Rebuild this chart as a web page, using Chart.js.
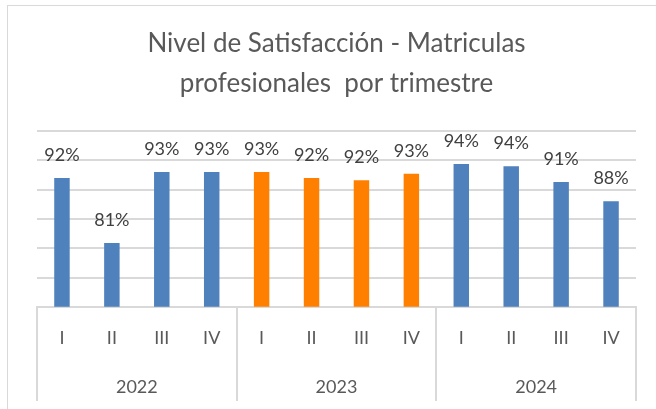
<!DOCTYPE html>
<html>
<head>
<meta charset="utf-8">
<script src="https://cdn.jsdelivr.net/npm/chart.js@4"></script>
<style>
    body { margin: 0; background: #fff; }
    #wrap { position: relative; width: 656px; height: 409px; overflow: hidden; }
    #frame { position: absolute; left: 7px; top: 5px; width: 700px; height: 420px;
             border-left: 1px solid #d9d9d9; border-top: 1px solid #d9d9d9; }
    canvas { position: absolute; left: 0; top: 0; }
</style>
</head>
<body>
<div id="wrap">
    <div id="frame"></div>
    <canvas id="chart" width="656" height="409"></canvas>
</div>
<script>
const years = ['2022', '2023', '2024'];
const quarters = ['I', 'II', 'III', 'IV'];
const satisfaction = [92.0, 80.9, 93.0, 93.0, 93.0, 92.0, 91.6, 92.7, 94.4, 94.0, 91.3, 88.0];

const blue = '#4f81bd';
const orange = '#ff8000';
const gridColor = '#d9d9d9';
const textColor = '#595959';

const labels = years.flatMap(() => quarters);
const barColors = labels.map((q, i) => Math.floor(i / quarters.length) === 1 ? orange : blue);

// value labels above each bar
const valueLabels = {
    id: 'valueLabels',
    afterDatasetsDraw(chart) {
        const ctx = chart.ctx;
        const meta = chart.getDatasetMeta(0);
        ctx.save();
        ctx.font = '18px Lato';
        ctx.fillStyle = '#404040';
        ctx.textAlign = 'center';
        ctx.textBaseline = 'middle';
        meta.data.forEach((bar, i) => {
            ctx.fillText(Math.round(satisfaction[i]) + '%', bar.x, bar.y - 23);
        });
        ctx.restore();
    }
};

// vertical separators of the two-level category axis
const yearDividers = {
    id: 'yearDividers',
    afterDraw(chart) {
        const x = chart.scales.x;
        const x2 = chart.scales.x2;
        const ctx = chart.ctx;
        const step = x.getPixelForValue(1) - x.getPixelForValue(0);
        ctx.save();
        ctx.strokeStyle = gridColor;
        ctx.lineWidth = 2;
        for (let k = 0; k <= years.length; k++) {
            const idx = k * quarters.length;
            const px = Math.round(x.getPixelForValue(Math.min(idx, labels.length - 1)) + (idx === labels.length ? step / 2 : -step / 2));
            ctx.beginPath();
            ctx.moveTo(px, x.top);
            ctx.lineTo(px, x2.bottom - 3);
            ctx.stroke();
        }
        ctx.restore();
    }
};

new Chart(document.getElementById('chart'), {
    type: 'bar',
    data: {
        labels: labels,
        datasets: [{
            data: satisfaction,
            backgroundColor: barColors,
            categoryPercentage: 1,
            barPercentage: 0.31
        }]
    },
    options: {
        responsive: false,
        animation: false,
        layout: { padding: { left: 37, right: 20, top: 0, bottom: 5 } },
        plugins: {
            legend: { display: false },
            tooltip: { enabled: false },
            title: {
                display: true,
                text: ['Nivel de Satisfacción - Matriculas', 'profesionales  por trimestre'],
                color: textColor,
                font: { family: 'Lato', size: 26, weight: 'normal', lineHeight: 1.54 },
                padding: { top: 24, bottom: 27 }
            }
        },
        scales: {
            y: {
                min: 70,
                max: 100,
                ticks: { display: false, stepSize: 5 },
                grid: { color: gridColor, lineWidth: 2, drawTicks: false },
                border: { display: false }
            },
            x: {
                offset: true,
                grid: { display: false, drawTicks: false },
                border: { color: gridColor, width: 2 },
                ticks: {
                    color: textColor,
                    font: { family: 'Lato', size: 18 },
                    padding: 21,
                    maxRotation: 0,
                    autoSkip: false
                }
            },
            x2: {
                type: 'category',
                position: 'bottom',
                labels: years,
                offset: true,
                grid: { display: false, drawTicks: false },
                border: { display: false },
                ticks: {
                    color: textColor,
                    font: { family: 'Lato', size: 18 },
                    padding: 6,
                    maxRotation: 0
                }
            }
        }
    },
    plugins: [valueLabels, yearDividers]
});
</script>
</body>
</html>
